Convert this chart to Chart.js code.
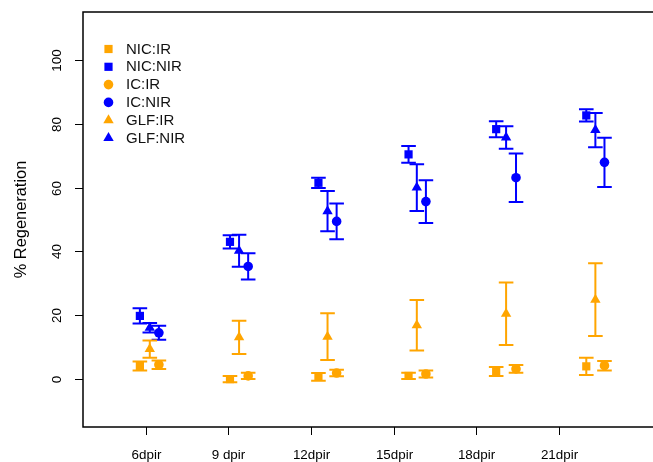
<!DOCTYPE html>
<html>
<head>
<meta charset="utf-8">
<script src="https://cdn.jsdelivr.net/npm/chart.js@4/dist/chart.umd.min.js"></script>
<style>
  html, body { margin: 0; padding: 0; background: #fff; }
</style>
</head>
<body>
<canvas id="regenChart" width="653" height="462"></canvas>
<script>
const categories = ["6dpir", "9 dpir", "12dpir", "15dpir", "18dpir", "21dpir"];
const yTicks = [0, 20, 40, 60, 80, 100];

// x positions of each marker group (plotted slightly apart within a day)
const xNIC = [0.93, 2.02, 3.09, 4.18, 5.24, 6.33];
const xGLF = [1.05, 2.13, 3.20, 4.28, 5.36, 6.44];
const xIC = [1.16, 2.24, 3.31, 4.39, 5.48, 6.55];

// means and error (half bar length), % regeneration
const nicIR = [4.1, 0.0, 0.7, 1.0, 2.4, 4.0];
const nicIRErr = [1.4, 1.0, 1.2, 1.0, 1.4, 2.7];
const nicNIR = [19.8, 43.0, 61.5, 70.4, 78.3, 82.6];
const nicNIRErr = [2.4, 2.1, 1.6, 2.6, 2.5, 1.9];
const icIR = [4.5, 1.0, 1.9, 1.6, 3.2, 4.2];
const icIRErr = [1.3, 1.0, 1.0, 1.1, 1.2, 1.5];
const icNIR = [14.5, 35.3, 49.4, 55.6, 63.1, 67.9];
const icNIRErr = [2.2, 4.1, 5.6, 6.7, 7.6, 7.7];
const glfIR = [9.4, 13.1, 13.3, 16.9, 20.5, 24.9];
const glfIRErr = [2.7, 5.2, 7.3, 7.9, 9.8, 11.4];
const glfNIR = [16.1, 40.2, 52.6, 60.0, 75.7, 78.0];
const glfNIRErr = [1.5, 5.0, 6.3, 7.3, 3.5, 5.4];

const ORANGE = "#FFA500";
const BLUE = "#0000FF";
const FONT = "'Liberation Sans', Arial, Helvetica, sans-serif";

function makeSet(label, xs, ys, errs, color, style, radius) {
  return {
    label,
    data: xs.map((x, i) => ({ x, y: ys[i] })),
    err: errs,
    backgroundColor: color,
    borderColor: color,
    borderWidth: 0,
    pointStyle: style,
    pointRadius: radius,
    pointHoverRadius: radius
  };
}

const datasets = [
  makeSet("NIC:IR", xNIC, nicIR, nicIRErr, ORANGE, "rect", 5.8),
  makeSet("NIC:NIR", xNIC, nicNIR, nicNIRErr, BLUE, "rect", 5.8),
  makeSet("IC:IR", xIC, icIR, icIRErr, ORANGE, "circle", 4.8),
  makeSet("IC:NIR", xIC, icNIR, icNIRErr, BLUE, "circle", 4.8),
  makeSet("GLF:IR", xGLF, glfIR, glfIRErr, ORANGE, "triangle", 6),
  makeSet("GLF:NIR", xGLF, glfNIR, glfNIRErr, BLUE, "triangle", 6)
];

function drawMarker(ctx, style, x, y, r) {
  ctx.beginPath();
  if (style === "rect") {
    const s = r * Math.SQRT1_2;
    ctx.rect(x - s, y - s, 2 * s, 2 * s);
  } else if (style === "circle") {
    ctx.arc(x, y, r, 0, Math.PI * 2);
  } else {
    ctx.moveTo(x, y - r);
    ctx.lineTo(x + r * Math.sin(Math.PI / 3), y + r / 2);
    ctx.lineTo(x - r * Math.sin(Math.PI / 3), y + r / 2);
    ctx.closePath();
  }
  ctx.fill();
}

const errorBars = {
  id: "errorBars",
  beforeDatasetsDraw(chart) {
    const { ctx, scales: { x, y } } = chart;
    ctx.save();
    ctx.lineWidth = 2;
    chart.data.datasets.forEach((ds) => {
      ctx.strokeStyle = ds.borderColor;
      ds.data.forEach((p, i) => {
        const px = x.getPixelForValue(p.x);
        const top = y.getPixelForValue(p.y + ds.err[i]);
        const bot = y.getPixelForValue(p.y - ds.err[i]);
        ctx.beginPath();
        ctx.moveTo(px, top); ctx.lineTo(px, bot);
        ctx.moveTo(px - 7.3, top); ctx.lineTo(px + 7.3, top);
        ctx.moveTo(px - 7.3, bot); ctx.lineTo(px + 7.3, bot);
        ctx.stroke();
      });
    });
    ctx.restore();
  }
};

const frame = {
  id: "frame",
  afterDraw(chart) {
    const { ctx, chartArea: a, scales: { x, y } } = chart;
    ctx.save();
    ctx.strokeStyle = "#000";
    ctx.lineWidth = 1.5;
    // box runs off the right edge, as in the original crop
    ctx.strokeRect(a.left, a.top, a.right - a.left + 4, a.bottom - a.top);

    ctx.lineWidth = 1;
    ctx.fillStyle = "#000";
    ctx.font = "13.4px " + FONT;
    ctx.textAlign = "center";
    ctx.textBaseline = "middle";
    categories.forEach((c, i) => {
      const px = Math.round(x.getPixelForValue(i + 1)) + 0.5;
      ctx.beginPath();
      ctx.moveTo(px, a.bottom); ctx.lineTo(px, a.bottom + 8);
      ctx.stroke();
      ctx.fillText(c, px, 455);
    });

    yTicks.forEach((v) => {
      const py = Math.round(y.getPixelForValue(v)) + 0.5;
      ctx.beginPath();
      ctx.moveTo(a.left - 8, py); ctx.lineTo(a.left, py);
      ctx.stroke();
      ctx.save();
      ctx.translate(57, py);
      ctx.rotate(-Math.PI / 2);
      ctx.fillText(String(v), 0, 0);
      ctx.restore();
    });

    ctx.save();
    ctx.font = "16.4px " + FONT;
    ctx.translate(21, (a.top + a.bottom) / 2);
    ctx.rotate(-Math.PI / 2);
    ctx.fillText("% Regeneration", 0, 0);
    ctx.restore();

    // legend
    ctx.font = "15px " + FONT;
    ctx.textAlign = "left";
    chart.data.datasets.forEach((ds, i) => {
      const ly = 49 + i * 17.8;
      ctx.fillStyle = ds.backgroundColor;
      drawMarker(ctx, ds.pointStyle, 108.5, ly, ds.pointRadius);
      ctx.fillStyle = "#111";
      ctx.fillText(ds.label, 126, ly + 0.5);
    });
    ctx.restore();
  }
};

new Chart(document.getElementById("regenChart").getContext("2d"), {
  type: "scatter",
  data: { datasets },
  options: {
    responsive: false,
    animation: false,
    layout: { autoPadding: false, padding: { top: 12, right: 0, left: 0, bottom: 0 } },
    plugins: { legend: { display: false }, tooltip: { enabled: false } },
    scales: {
      x: {
        type: "linear",
        min: 0.242,
        max: 7.137,
        grid: { display: false },
        border: { display: false },
        ticks: { display: false },
        afterFit: (s) => { s.height = 35; }
      },
      y: {
        type: "linear",
        min: -15,
        max: 115,
        grid: { display: false },
        border: { display: false },
        ticks: { display: false },
        afterFit: (s) => { s.width = 83; }
      }
    }
  },
  plugins: [errorBars, frame]
});
</script>
</body>
</html>
